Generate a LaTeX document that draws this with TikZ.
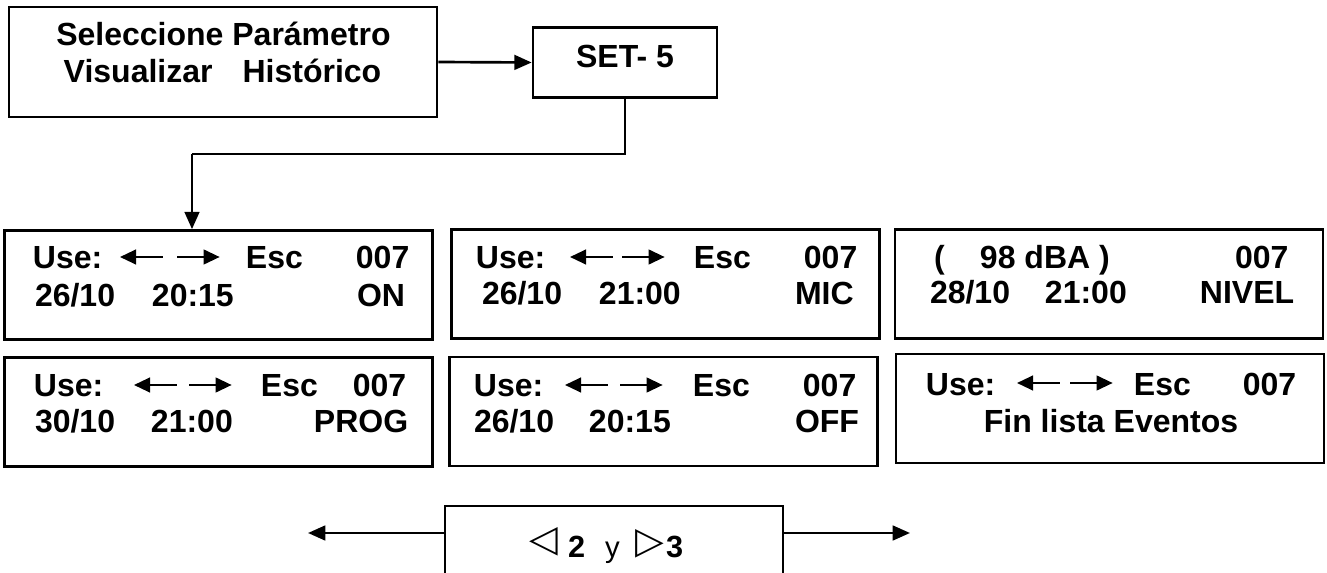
\documentclass[tikz,border=0pt]{standalone}
\usepackage{fontspec}
\setmainfont{Liberation Sans}
\newfontfamily\symfont{DejaVu Sans}
\usetikzlibrary{arrows.meta}

\newdimen\pxu \pxu=0.75pt
\newcommand\putat[2]{\makebox[0pt][l]{\hspace*{#1\pxu}#2}}
\newcommand\larr{\tikz[baseline=0pt]\draw[line width=1.6pt,{Triangle[length=12pt,width=11pt]}-] (0pt,9pt) -- (32pt,9pt);}
\newcommand\rarr{\tikz[baseline=0pt]\draw[line width=1.6pt,-{Triangle[length=12pt,width=11pt]}] (0pt,9pt) -- (32pt,9pt);}

\begin{document}
\begin{tikzpicture}[x=0.75pt,y=-0.75pt,line width=2pt,
  box/.style={draw,inner sep=0pt},
  scr/.style={box,minimum width=428\pxu,minimum height=109\pxu},
  txt/.style={anchor=base west,inner sep=0pt,font=\bfseries\fontsize{24}{29}\selectfont},
  >={Triangle[length=13pt,width=11pt]}]
\useasboundingbox (0,0) rectangle (1327,573);

\node[box,minimum width=428\pxu,minimum height=110\pxu] (sel) at (223,62) {};
\node[txt,anchor=base] (selA) at (223.5,46) {Seleccione Parámetro};
\node[txt,anchor=base] (selB) at (222.5,83) {Visualizar\hspace{30\pxu}Histórico};

\node[box,minimum width=184\pxu,minimum height=70\pxu] (set) at (625,62.5) {};
\node[txt,anchor=base] (setT) at (625,68) {SET- 5};

\draw[->] (sel.east) -- (set.west);
\coordinate (bend) at (192,154);
\draw (set.south) |- (bend);

\node[scr] (evOn) at (218.5,285) {};
\node[scr] (evMic) at (665.5,284) {};
\node[scr] (evNivel) at (1109,284) {};
\node[scr] (evProg) at (218.5,412) {};
\node[scr] (evOff) at (663.5,411.5) {};
\node[scr] (evFin) at (1110,408.5) {};

\draw[->] (bend) -- (bend |- evOn.north);

\node[txt] (evOn1) at (32,269) {\putat{0}{Use:}\putat{86}{\larr}\putat{143}{\rarr}\putat{213}{Esc}\putat{323}{007}};
\node[txt] (evOn2) at (33,307) {\putat{0}{26/10}\putat{117}{20:15}\putat{322}{ON}};

\node[txt] (evMic1) at (475,269) {\putat{0}{Use:}\putat{93}{\larr}\putat{145}{\rarr}\putat{218}{Esc}\putat{328}{007}};
\node[txt] (evMic2) at (480,305) {\putat{0}{26/10}\putat{117}{21:00}\putat{313}{MIC}};

\node[txt] (evNivel1) at (932,269) {\putat{0}{(}\putat{46}{98 dBA )}\putat{301}{007}};
\node[txt] (evNivel2) at (928,304) {\putat{0}{28/10}\putat{115}{21:00}\putat{270}{NIVEL}};

\node[txt] (evProg1) at (33,397) {\putat{0}{Use:}\putat{99}{\larr}\putat{154}{\rarr}\putat{227}{Esc}\putat{319}{007}};
\node[txt] (evProg2) at (33,432) {\putat{0}{30/10}\putat{116}{21:00}\putat{279}{PROG}};

\node[txt] (evOff1) at (473,397) {\putat{0}{Use:}\putat{90}{\larr}\putat{145}{\rarr}\putat{219}{Esc}\putat{329}{007}};
\node[txt] (evOff2) at (472,432) {\putat{0}{26/10}\putat{115}{20:15}\putat{321}{OFF}};

\node[txt] (evFin1) at (925,395) {\putat{0}{Use:}\putat{90}{\larr}\putat{143}{\rarr}\putat{208}{Esc}\putat{317}{007}};
\node[txt,anchor=base] (evFin2) at (1111,432) {Fin lista Eventos};

\node[box,minimum width=338\pxu,minimum height=90\pxu] (nav) at (614,551) {};
\node[anchor=base west,inner sep=0pt] (navT) at (527,557) {\putat{0}{\raisebox{6\pxu}{\symfont\fontsize{28}{28}\selectfont ◁}}\putat{39}{\bfseries\fontsize{23}{23}\selectfont 2}\putat{76}{\fontsize{22}{22}\selectfont y}\putat{106}{\raisebox{4\pxu}{\symfont\fontsize{28}{28}\selectfont ▷}}\putat{137}{\bfseries\fontsize{23}{23}\selectfont 3}};
\coordinate (navL) at (308,533);
\coordinate (navR) at (910,533);
\draw[->] ([yshift=18\pxu]nav.west) -- (navL);
\draw[->] ([yshift=18\pxu]nav.east) -- (navR);
\end{tikzpicture}
\end{document}
